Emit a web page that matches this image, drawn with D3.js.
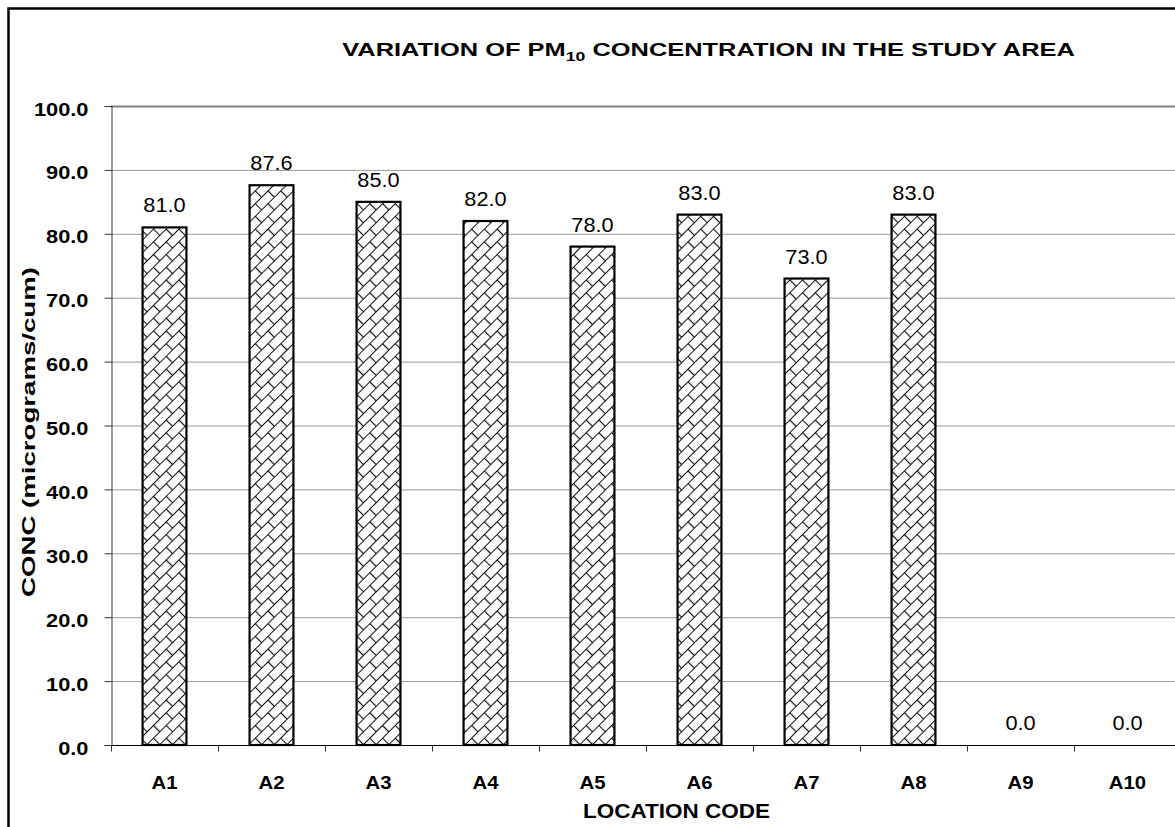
<!DOCTYPE html>
<html>
<head>
<meta charset="utf-8">
<script src="https://cdn.jsdelivr.net/npm/d3@7"></script>
<style>
  body { margin: 0; background: #fff; }
  svg { display: block; font-family: "Liberation Sans", Arial, sans-serif; }
</style>
</head>
<body>
<svg id="chart"></svg>
<script>
// data
const locations = ["A1", "A2", "A3", "A4", "A5", "A6", "A7", "A8", "A9", "A10"];
const pm10 = [81.0, 87.6, 85.0, 82.0, 78.0, 83.0, 73.0, 83.0, 0.0, 0.0];
const yTicks = [0, 10, 20, 30, 40, 50, 60, 70, 80, 90, 100];

const width = 1175, height = 827;
const plot = {top: 106, left: 111, bottom: 745, right: 1181};

const svg = d3.select("#chart")
    .attr("width", width)
    .attr("height", height);

// the source image is stretched sideways, so text is widened with a scale
function widen(sel, x, y, sx, rot) {
    sel.attr("x", 0).attr("y", 0)
       .attr("transform", `translate(${x},${y})${rot ? ` rotate(${rot})` : ""} scale(${sx},1)`);
}
function fitTo(sel, x, y, w, rot) {
    const n = sel.node().getComputedTextLength();
    widen(sel, x, y, w / n, rot);
}

// diagonal brick hatch
const pat = svg.append("defs").append("pattern")
    .attr("id", "hatch")
    .attr("patternUnits", "userSpaceOnUse")
    .attr("width", 18).attr("height", 18)
    .attr("patternTransform", "rotate(-45)");
pat.append("rect").attr("width", 18).attr("height", 18).attr("fill", "#fff");
pat.append("path")
    .attr("d", "M0,0.5H18 M0,9.5H18 M0.5,0V9 M9.5,9V18")
    .attr("stroke", "#111").attr("stroke-width", 1.2).attr("fill", "none");

// outer frame (right and bottom edges are cut off in the source)
svg.append("path")
    .attr("d", "M8.5,1200V8.5H1200")
    .attr("fill", "none").attr("stroke", "#000").attr("stroke-width", 2.5);

const x = d3.scaleBand()
    .domain(locations)
    .range([plot.left, plot.right])
    .paddingInner(0.59)
    .paddingOuter(0.295);

const y = d3.scaleLinear()
    .domain([0, 100])
    .range([plot.bottom, plot.top]);

// gridlines
svg.append("g")
    .selectAll("line").data(yTicks.filter(d => d > 0)).enter().append("line")
    .attr("x1", plot.left).attr("x2", plot.right)
    .attr("y1", d => y(d) + 0.5).attr("y2", d => y(d) + 0.5)
    .attr("stroke", d => d === 100 ? "#808080" : "#999")
    .attr("stroke-width", d => d === 100 ? 2 : 1);

// bars
svg.append("g")
    .selectAll("rect").data(pm10).enter().append("rect")
    .attr("x", (d, i) => x(locations[i]))
    .attr("y", d => y(d))
    .attr("width", x.bandwidth())
    .attr("height", d => y(0) - y(d))
    .attr("fill", "url(#hatch)")
    .attr("stroke", "#000")
    .attr("stroke-width", d => d > 0 ? 2.2 : 0);

// value labels
svg.append("g")
    .selectAll("text").data(pm10).enter().append("text")
    .attr("text-anchor", "middle")
    .attr("font-size", 20.5)
    .text(d => d.toFixed(1))
    .each(function(d, i) {
        widen(d3.select(this), x(locations[i]) + x.bandwidth() / 2, y(d) - 15, 1.06);
    });

// y axis
const yAxis = svg.append("g")
    .attr("transform", `translate(${plot.left + 0.5},0)`)
    .call(d3.axisLeft(y).tickValues(yTicks).tickSize(7).tickFormat(d => d.toFixed(1)));
yAxis.select(".domain").attr("stroke", "#333");
yAxis.selectAll(".tick line").attr("stroke", "#333");
yAxis.selectAll(".tick text")
    .attr("font-size", 18.5).attr("font-weight", "bold")
    .attr("font-family", "Liberation Sans, Arial, sans-serif")
    .attr("fill", "#000").attr("dy", null)
    .each(function() { widen(d3.select(this), -23, 9, 1.18); });

// x axis: ticks sit between categories
const xAxis = svg.append("g")
    .attr("transform", `translate(0,${plot.bottom + 0.5})`);
xAxis.append("line")
    .attr("x1", plot.left).attr("x2", plot.right)
    .attr("stroke", "#000");
xAxis.selectAll(".tk").data(locations).enter().append("line")
    .attr("class", "tk")
    .attr("x1", d => Math.round(x(d) - (x.step() - x.bandwidth()) / 2) + 0.5)
    .attr("x2", d => Math.round(x(d) - (x.step() - x.bandwidth()) / 2) + 0.5)
    .attr("y1", 0).attr("y2", 6)
    .attr("stroke", "#333");
xAxis.selectAll(".lbl").data(locations).enter().append("text")
    .attr("class", "lbl")
    .attr("text-anchor", "middle")
    .attr("font-size", 18.5).attr("font-weight", "bold")
    .text(d => d)
    .each(function(d) { widen(d3.select(this), x(d) + x.bandwidth() / 2, 43, 1.1); });

// title
const title = svg.append("text")
    .attr("text-anchor", "middle")
    .attr("font-size", 18).attr("font-weight", "bold");
title.append("tspan").text("VARIATION OF PM");
title.append("tspan").attr("font-size", 12.5).attr("dy", 5).text("10");
title.append("tspan").attr("dy", -5).text(" CONCENTRATION IN THE STUDY AREA");
fitTo(title, 708.5, 56, 733);

// axis titles
const xTitle = svg.append("text")
    .attr("text-anchor", "middle")
    .attr("font-size", 20.5).attr("font-weight", "bold")
    .text("LOCATION CODE");
fitTo(xTitle, 676.5, 818, 187);

const yTitle = svg.append("text")
    .attr("text-anchor", "middle")
    .attr("font-size", 17.7).attr("font-weight", "bold")
    .text("CONC (micrograms/cum)");
fitTo(yTitle, 35, 432, 330, -90);
</script>
</body>
</html>
